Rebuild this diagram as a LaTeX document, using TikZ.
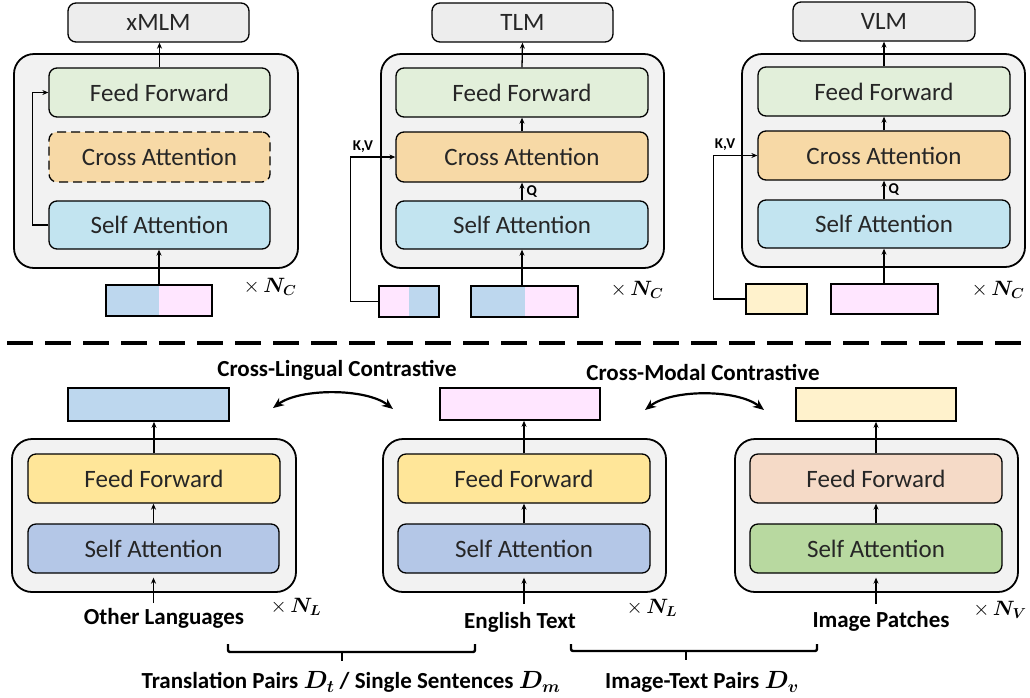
\documentclass[tikz,border=0pt]{standalone}
\usepackage{amsmath,bm}
\usepackage{fontspec}
\setmainfont{Carlito}
\usetikzlibrary{arrows.meta,calc}
\definecolor{topgray}{HTML}{EDEDED}
\definecolor{outergray}{HTML}{F2F2F2}
\definecolor{ffgreen}{HTML}{E2EFDA}
\definecolor{caorange}{HTML}{F7D9A6}
\definecolor{salblue}{HTML}{C2E4F0}
\definecolor{inblue}{HTML}{BDD7EE}
\definecolor{inpink}{HTML}{FFE6FF}
\definecolor{inyellow}{HTML}{FFF2CC}
\definecolor{ffyellow}{HTML}{FFE699}
\definecolor{sablue}{HTML}{B4C7E7}
\definecolor{ffpeach}{HTML}{F5DAC7}
\definecolor{sagreen}{HTML}{B8D9A0}
\tikzset{
  blk/.style={draw=black, line width=1.3pt, rounded corners=8pt, inner sep=0pt,
    minimum height=49pt, font=\fontsize{25}{30}\selectfont, text=black!85},
  topbox/.style={blk, fill=topgray, minimum width=181pt, minimum height=39pt},
  outerbox/.style={draw=black, fill=outergray, line width=1.8pt, rounded corners=20pt, inner sep=0pt},
  bar/.style={draw=black, line width=1.6pt, inner sep=0pt, minimum height=31pt},
  splitbar/.style 2 args={bar, fill=#2, path picture={\fill[#1] (path picture bounding box.south west) rectangle (path picture bounding box.north);}},
  arr/.style={-{Stealth[length=6pt,width=5pt]}, line width=1.3pt},
  carr/.style={{Stealth[length=11pt,width=9pt]}-{Stealth[length=11pt,width=9pt]}, line width=2.2pt},
  lbl/.style={font=\fontsize{23}{28}\selectfont\bfseries, inner sep=0pt},
  small/.style={font=\fontsize{15}{18}\selectfont\bfseries, inner sep=0pt},
  times/.style={font=\fontsize{21}{25}\selectfont, inner sep=0pt},
  brace/.style={line width=2.4pt, rounded corners=2pt}
}
\begin{document}
\begin{tikzpicture}[x=1pt,y=-1pt]
\useasboundingbox (0,0) rectangle (1030,697);

% ---------- panel 1: xMLM ----------
\node[topbox] (top1) at (158.5,22.5) {xMLM};
\node[outerbox, minimum width=284pt, minimum height=214pt] (o1) at (156,161) {};
\node[blk, fill=ffgreen, minimum width=221pt] (ff1) at (159.5,92.5) {Feed Forward};
\node[blk, fill=caorange, dashed, dash pattern=on 9pt off 5pt, minimum width=221pt, minimum height=50pt] (ca1) at (159.5,157) {Cross Attention};
\node[blk, fill=salblue, minimum width=221pt, minimum height=48pt] (sa1) at (159.5,225) {Self Attention};
\node[splitbar={inblue}{inpink}, minimum width=106pt] (in1) at (159,300.5) {};
\node[times] (n1) at (270,287) {$\times\,\bm{N_C}$};
\draw[arr] (ff1.north) -- (ff1.north |- top1.south);
\draw[arr] (sa1.west) -- ++(-16,0) |- (ff1.west);
\draw[arr] (in1.north) -- (in1.north |- sa1.south);

% ---------- panel 2: TLM ----------
\node[topbox] (top2) at (522.5,22.5) {TLM};
\node[outerbox, minimum width=283pt, minimum height=214pt] (o2) at (522.5,161) {};
\node[blk, fill=ffgreen, minimum width=252pt] (ff2) at (522,92.5) {Feed Forward};
\node[blk, fill=caorange, minimum width=252pt, minimum height=50pt] (ca2) at (522,157) {Cross Attention};
\node[blk, fill=salblue, minimum width=252pt, minimum height=48pt] (sa2) at (522,225) {Self Attention};
\node[splitbar={inpink}{inblue}, minimum width=60pt] (kv2) at (409,301.5) {};
\node[splitbar={inblue}{inpink}, minimum width=107pt] (in2) at (524.5,301.5) {};
\node[times] (n2) at (637,290) {$\times\,\bm{N_C}$};
\draw[arr] (ff2.north) -- (top2.south);
\draw[arr] (ca2.north) -- (ff2.south);
\draw[arr] (sa2.north) -- node[small, right=4pt] (q2) {Q} (ca2.south);
\draw[arr] (in2.north -| sa2.south) -- (sa2.south);
\draw[arr] (kv2.west) -- ++(-28,0) coordinate (kvc2) |- (ca2.west);
\node[small] (kvl2) at (363,147) {K,V};

% ---------- panel 3: VLM ----------
\node[topbox, minimum width=182pt] (top3) at (884,21.5) {VLM};
\node[outerbox, minimum width=283pt, minimum height=213pt] (o3) at (883.5,160.5) {};
\node[blk, fill=ffgreen, minimum width=252pt] (ff3) at (884,91.5) {Feed Forward};
\node[blk, fill=caorange, minimum width=252pt] (ca3) at (884,155.5) {Cross Attention};
\node[blk, fill=salblue, minimum width=252pt, minimum height=48pt] (sa3) at (884,224) {Self Attention};
\node[bar, fill=inyellow, minimum width=61pt, minimum height=30pt] (kv3) at (776.5,299) {};
\node[bar, fill=inpink, minimum width=107pt, minimum height=30pt] (in3) at (884.5,299) {};
\node[times] (n3) at (998,290) {$\times\,\bm{N_C}$};
\draw[arr] (ff3.north) -- (top3.south);
\draw[arr] (ca3.north) -- (ff3.south);
\draw[arr] (sa3.north) -- node[small, right=4pt] (q3) {Q} (ca3.south);
\draw[arr] (in3.north -| sa3.south) -- (sa3.south);
\draw[arr] (kv3.west) -- ++(-32,0) coordinate (kvc3) |- (ca3.west);
\node[small] (kvl3) at (725,145) {K,V};

% ---------- separator ----------
\coordinate (sepL) at (7,343);
\coordinate (sepR) at (1030,343);
\draw[line width=4pt, dash pattern=on 26pt off 12pt] (sepL) -- (sepR);

% ---------- bottom panel 1 ----------
\node[bar, fill=inblue, minimum width=161pt, minimum height=33pt] (out4) at (148.5,404.5) {};
\node[outerbox, minimum width=284pt, minimum height=153pt] (o4) at (154,515.5) {};
\node[blk, fill=ffyellow, minimum width=252pt] (ff4) at (154,478.5) {Feed Forward};
\node[blk, fill=sablue, minimum width=251pt] (sa4) at (153.5,548.5) {Self Attention};
\node[lbl] (lab4) at (164,618) {Other Languages};
\node[times] (n4) at (296,607) {$\times\,\bm{N_L}$};
\draw[arr] (ff4.north) -- (ff4.north |- out4.south);
\draw[arr] (sa4.north) -- (sa4.north |- ff4.south);
\coordinate (i4) at (153.5,603);
\draw[arr] (i4) -- ($(sa4.south)+(0,4)$);

% ---------- bottom panel 2 ----------
\node[bar, fill=inpink, minimum width=160pt, minimum height=32pt] (out5) at (520,404) {};
\node[outerbox, minimum width=283pt, minimum height=153pt] (o5) at (524.5,515.5) {};
\node[blk, fill=ffyellow, minimum width=252pt] (ff5) at (524,478.5) {Feed Forward};
\node[blk, fill=sablue, minimum width=252pt] (sa5) at (524,548.5) {Self Attention};
\node[lbl] (lab5) at (520,622) {English Text};
\node[times] (n5) at (652,608) {$\times\,\bm{N_L}$};
\draw[arr] (ff5.north) -- (ff5.north |- out5.south);
\draw[arr] (sa5.north) -- (ff5.south);
\coordinate (i5) at (524,604);
\draw[arr] (i5) -- ($(sa5.south)+(0,4)$);

% ---------- bottom panel 3 ----------
\node[bar, fill=inyellow, minimum width=160pt, minimum height=33pt] (out6) at (876,404.5) {};
\node[outerbox, minimum width=283pt, minimum height=153pt] (o6) at (876.5,515.5) {};
\node[blk, fill=ffpeach, minimum width=252pt] (ff6) at (876,478.5) {Feed Forward};
\node[blk, fill=sagreen, minimum width=252pt] (sa6) at (876,548.5) {Self Attention};
\node[lbl] (lab6) at (881,621) {Image Patches};
\node[times] (n6) at (1000,610) {$\times\,\bm{N_V}$};
\draw[arr] (ff6.north) -- (out6.south);
\draw[arr] (sa6.north) -- (ff6.south);
\coordinate (i6) at (876,604);
\draw[arr] (i6) -- ($(sa6.south)+(0,4)$);

% ---------- contrastive ----------
\node[lbl] (cl) at (337,370) {Cross-Lingual Contrastive};
\node[lbl] (cm) at (703,372) {Cross-Modal Contrastive};
\coordinate (cla) at (273,408);
\coordinate (clb) at (393,409);
\coordinate (cma) at (645,410);
\coordinate (cmb) at (764,410);
\draw[carr] (cla) .. controls (300,388) and (366,388) .. (clb);
\draw[carr] (cma) .. controls (672,389) and (737,389) .. (cmb);

% ---------- braces ----------
\draw[brace] (228,644) -- (228,652) -- (475,652) -- (475,644);
\draw[line width=2.4pt] (342,652) -- (342,661);
\draw[brace] (571,644) -- (571,651) -- (817,651) -- (817,644);
\draw[line width=2.4pt] (686,651) -- (686,660);
\node[lbl] (d1) at (351,682) {Translation Pairs $\bm{D_t}$ / Single Sentences $\bm{D_m}$};
\node[lbl] (d2) at (702,682) {Image-Text Pairs $\bm{D_v}$};
\end{tikzpicture}
\end{document}
